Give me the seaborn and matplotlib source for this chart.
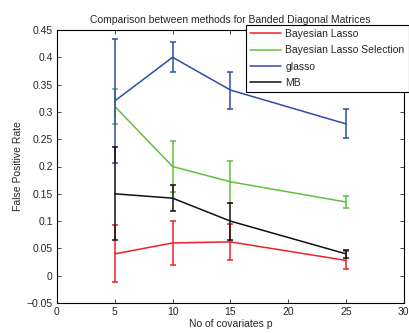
import matplotlib
matplotlib.use("Agg")
import matplotlib.pyplot as plt
import seaborn as sns
import pandas as pd

sns.set_style("white")
plt.rcParams['font.family'] = ['Liberation Sans', 'DejaVu Sans']

p_values = [5, 10, 15, 25]
methods = ["Bayesian Lasso", "Bayesian Lasso Selection", "glasso", "MB"]
colors = ["#ee2028", "#60bf3c", "#2d4ea6", "#111111"]

bl_mean = [0.040, 0.060, 0.062, 0.028]
bl_low = [-0.012, 0.020, 0.028, 0.012]
bl_high = [0.092, 0.100, 0.095, 0.045]

bls_mean = [0.310, 0.200, 0.172, 0.135]
bls_low = [0.278, 0.153, 0.134, 0.124]
bls_high = [0.342, 0.247, 0.210, 0.146]

gl_mean = [0.320, 0.400, 0.340, 0.278]
gl_low = [0.207, 0.373, 0.305, 0.253]
gl_high = [0.434, 0.428, 0.373, 0.305]

mb_mean = [0.150, 0.142, 0.100, 0.040]
mb_low = [0.065, 0.118, 0.065, 0.033]
mb_high = [0.235, 0.166, 0.133, 0.047]

series = {
    "Bayesian Lasso": (bl_mean, bl_low, bl_high),
    "Bayesian Lasso Selection": (bls_mean, bls_low, bls_high),
    "glasso": (gl_mean, gl_low, gl_high),
    "MB": (mb_mean, mb_low, mb_high),
}

rows = []
for m in methods:
    mean, low, high = series[m]
    for p, v, lo, hi in zip(p_values, mean, low, high):
        rows.append({"p": p, "rate": v, "low": lo, "high": hi, "method": m})
df = pd.DataFrame(rows)

fig = plt.figure(figsize=(4.10, 3.33), dpi=100)
ax = fig.add_axes([0.139, 0.090, 0.846, 0.820])

sns.lineplot(data=df, x="p", y="rate", hue="method", hue_order=methods,
             palette=colors, linewidth=1.1, ax=ax, legend=False)

for m, c in zip(methods, colors):
    sub = df[df["method"] == m]
    ax.errorbar(sub["p"], sub["rate"],
                yerr=[sub["rate"] - sub["low"], sub["high"] - sub["rate"]],
                fmt="none", ecolor=c, elinewidth=1.1, capsize=2.2, capthick=1.1)

ax.set_xlim(0, 30)
ax.set_ylim(-0.05, 0.45)
ax.set_xticks([0, 5, 10, 15, 20, 25, 30])
ax.set_yticks([-0.05, 0, 0.05, 0.1, 0.15, 0.2, 0.25, 0.3, 0.35, 0.4, 0.45])
ax.set_yticklabels(["\u22120.05", "0", "0.05", "0.1", "0.15", "0.2", "0.25",
                    "0.3", "0.35", "0.4", "0.45"])
ax.tick_params(direction="in", length=3, labelsize=7.5, width=0.6,
               top=True, right=True, bottom=True, left=True, pad=3)
for s in ax.spines.values():
    s.set_color("black")
    s.set_linewidth(0.8)

ax.set_xlabel("No of covariates p", fontsize=7.5, labelpad=1)
ax.set_ylabel("False Positive Rate", fontsize=7.5, labelpad=3)
ax.set_title("Comparison between methods for Banded Diagonal Matrices",
             fontsize=7.5, pad=5)

handles = [plt.Line2D([0], [0], color=c, linewidth=1.1) for c in colors]
leg = fig.legend(handles, methods, loc="upper right",
                 bbox_to_anchor=(0.997, 0.925), fontsize=7.5,
                 fancybox=False, framealpha=1, edgecolor="black",
                 borderpad=0.4, labelspacing=0.6, handlelength=3.0,
                 handletextpad=0.4, borderaxespad=0)
leg.get_frame().set_linewidth(0.8)

fig.savefig("out.png", dpi=100)
